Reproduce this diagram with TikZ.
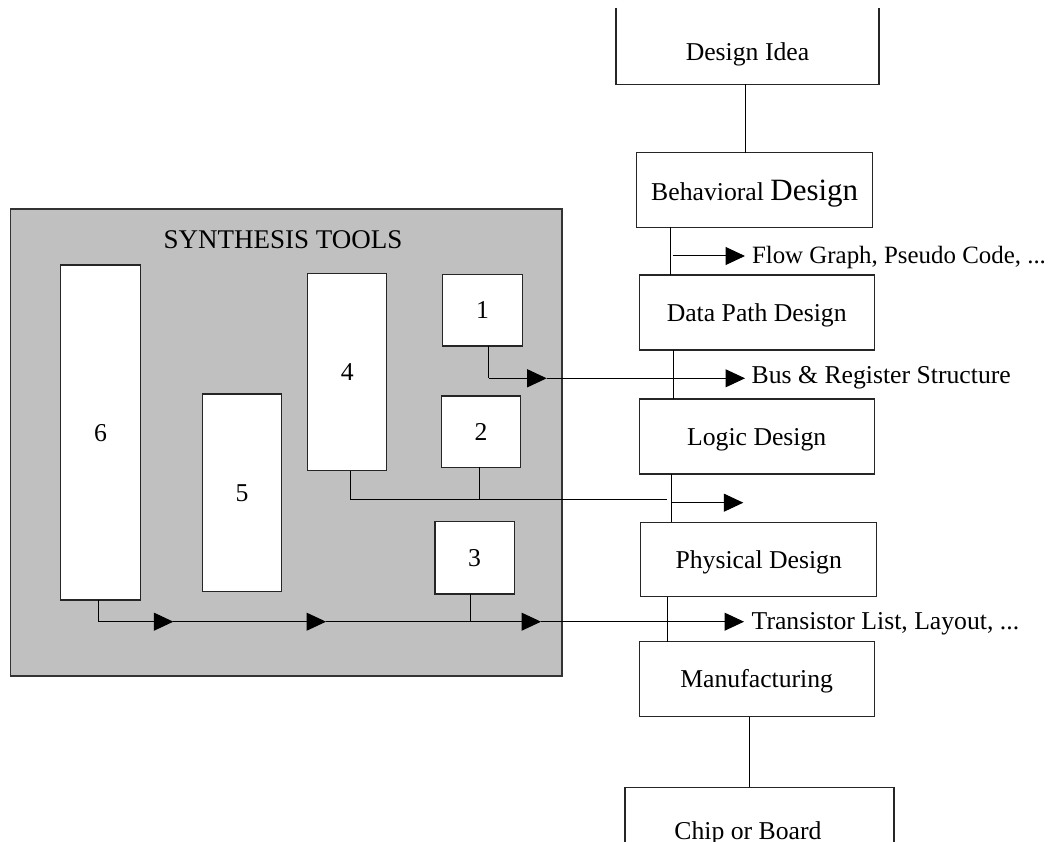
\documentclass[tikz,border=0pt]{standalone}
\usepackage{fontspec}
\setmainfont{Liberation Serif}
\usetikzlibrary{arrows.meta}
\newcommand\lblfont{\fontsize{25.7pt}{30pt}\selectfont}
\newcommand\bigfont{\fontsize{31pt}{36pt}\selectfont}
\newcommand\notefont{\fontsize{24.9pt}{29pt}\selectfont}
\newcommand\titlefont{\fontsize{27pt}{32pt}\selectfont}
\definecolor{toolgray}{HTML}{C0C0C0}

\begin{document}
\begin{tikzpicture}[x=1pt,y=-1pt,
  box/.style={draw=black!85, line width=1.1pt, fill=white, inner sep=0pt, outer sep=0pt,
              font=\lblfont, text height=17pt, text depth=0pt},
  plain/.style={inner sep=0pt, outer sep=0pt, font=\lblfont},
  boxline/.style={draw=black!85, line width=1.1pt},
  link/.style={draw=black, line width=1pt},
  flow/.style={link, -{Triangle[length=19.5pt,width=18pt]}},
]
\useasboundingbox (0,0) rectangle (1060,842);
\clip (0,0) rectangle (1060,842);
\fill[white] (0,0) rectangle (1060,842);

% ---------- synthesis tools panel ----------
\node[draw=black!80, line width=1.2pt, fill=toolgray, inner sep=0pt, outer sep=0pt,
      minimum width=551.6pt, minimum height=467pt] (synth) at (286.2,442.5) {};
\node[plain, font=\titlefont, anchor=base] (synthtitle) at (283,249) {SYNTHESIS TOOLS};

\node[box, minimum width=79.6pt, minimum height=335pt]   (t6) at (100.5,432.5)  {6};
\node[box, minimum width=79.4pt, minimum height=197.7pt] (t5) at (242,492.85)   {5};
\node[box, minimum width=79pt,   minimum height=197.4pt] (t4) at (347.2,372)    {4};
\node[box, minimum width=79.6pt, minimum height=71.7pt]  (t1) at (482.5,310.15) {1};
\node[box, minimum width=78.6pt, minimum height=71.3pt]  (t2) at (481,431.65)   {2};
\node[box, minimum width=79.3pt, minimum height=72.3pt]  (t3) at (474.65,557.85){3};

% ---------- design flow column ----------
\coordinate (top) at (0,8);
\node[box, draw=none, fill=none, minimum width=263pt, minimum height=64.4pt] (idea) at (747.5,52) {Design Idea};
\draw[boxline] (idea.south west |- top) -- (idea.south west) -- (idea.south east) -- (idea.south east |- top);

\node[box, text height=22pt, minimum width=236pt, minimum height=74.6pt] (behav) at (754.7,190)
      {Behavioral {\bigfont Design}};
\node[box, minimum width=235.3pt, minimum height=75pt] (data)  at (756.7,312.5) {Data Path Design};
\node[box, minimum width=235.3pt, minimum height=75pt] (logic) at (756.7,436.5) {Logic Design};
\node[box, minimum width=236pt,   minimum height=74.4pt] (phys) at (758.7,559.5) {Physical Design};
\node[box, minimum width=235.3pt, minimum height=75pt] (manu)  at (756.7,679.2) {Manufacturing};
\node[box, minimum width=269pt,   minimum height=110pt] (chip) at (759.5,842.3) {};
\node[plain, anchor=base] (chiptext) at (748,839.3) {Chip or Board};

% vertical links between the stages
\coordinate (xa) at (745.7,0);
\coordinate (xb) at (670.7,0);
\coordinate (xc) at (673.3,0);
\coordinate (xd) at (671.7,0);
\coordinate (xe) at (667.7,0);
\coordinate (xf) at (749.3,0);
\draw[link] (idea.south -| xa)  -- (behav.north -| xa);
\draw[link] (behav.south -| xb) -- (data.north -| xb);
\draw[link] (data.south -| xc)  -- (logic.north -| xc);
\draw[link] (logic.south -| xd) -- (phys.north -| xd);
\draw[link] (phys.south -| xe)  -- (manu.north -| xe);
\draw[link] (manu.south -| xf)  -- (chip.north -| xf);

% behavioral output
\coordinate (fa) at (672.7,256);
\coordinate (fb) at (745,256);
\draw[flow] (fa) -- (fb);
\node[plain, font=\notefont, anchor=base west] (flowtext) at (752,263.5) {Flow Graph, Pseudo Code, ...};

% tool 1 -> bus and register structure
\coordinate (b1) at (488.7,378.3);
\coordinate (b2) at (546.7,378.3);
\coordinate (b3) at (745,378.3);
\draw[link] (t1.south -| b1) -- (b1);
\draw[flow] (b1) -- (b2);
\draw[flow] (b2) -- (b3);
\node[plain, anchor=base west] (bustext) at (751.7,383.3) {Bus \& Register Structure};

% tools 4 and 2 -> logic level
\coordinate (l4) at (350.3,499);
\coordinate (l2) at (479.3,499);
\coordinate (lend) at (666.7,499);
\draw[link] (t4.south -| l4) -- (l4) -- (lend);
\draw[link] (t2.south -| l2) -- (l2);
\coordinate (la) at (671.7,502.7);
\coordinate (lb) at (743.3,502.7);
\draw[flow] (la) -- (lb);

% tools 6 and 3 -> transistor list, layout
\coordinate (p6) at (98.7,621.7);
\coordinate (p3) at (470,621.7);
\coordinate (q1) at (173.3,621.7);
\coordinate (q2) at (326,621.7);
\coordinate (q3) at (541,621.7);
\coordinate (q4) at (744,621.7);
\draw[link] (t6.south -| p6) -- (p6);
\draw[link] (t3.south -| p3) -- (p3);
\draw[flow] (p6) -- (q1);
\draw[flow] (q1) -- (q2);
\draw[flow] (q2) -- (q3);
\draw[flow] (q3) -- (q4);
\node[plain, anchor=base west] (tratext) at (751.7,629.3) {Transistor List, Layout, ...};
\end{tikzpicture}
\end{document}
